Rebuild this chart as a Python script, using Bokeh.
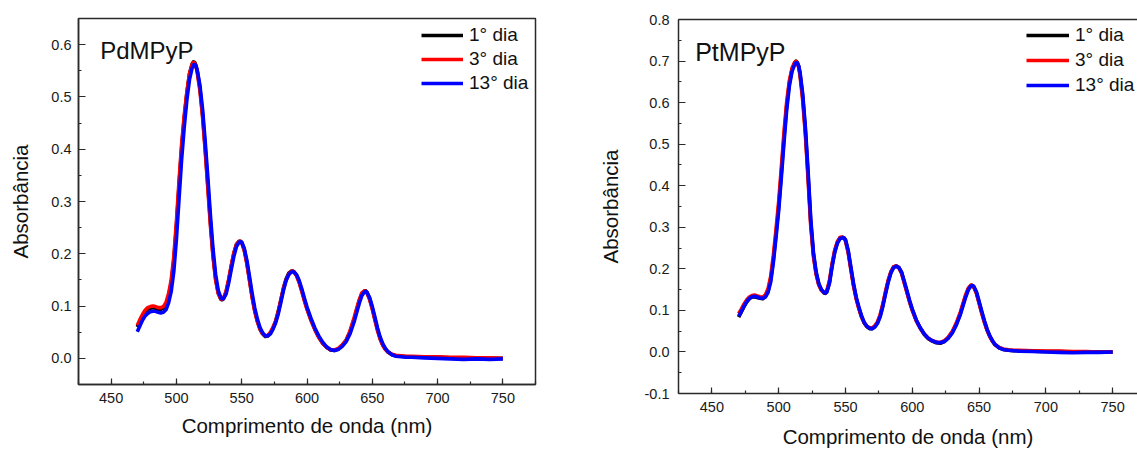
from bokeh.plotting import figure
from bokeh.models import (Range1d, SingleIntervalTicker, PrintfTickFormatter, Legend,
                          LegendItem, Label, LinearAxis, FixedTicker)
from bokeh.layouts import row
from bokeh.embed import file_html
from bokeh.resources import INLINE

wavelength = [470, 472, 474, 476, 478, 480, 482, 484, 486, 488,
              490, 492, 494, 496, 498, 500, 502, 504, 506, 508,
              510, 512, 513, 514, 515, 516, 518, 520, 522, 524,
              526, 528, 530, 532, 534, 535, 536, 538, 540, 542,
              544, 546, 548, 549, 550, 552, 554, 556, 558, 560,
              562, 564, 566, 568, 570, 572, 574, 576, 578, 580,
              582, 584, 586, 588, 589, 590, 592, 594, 596, 598,
              600, 603, 606, 609, 612, 615, 618, 621, 624, 627,
              630, 633, 636, 638, 640, 642, 644, 645, 646, 648,
              650, 652, 654, 656, 658, 660, 662, 665, 668, 672,
              676, 680, 690, 700, 710, 720, 730, 740, 750]

series_labels = ["1° dia", "3° dia", "13° dia"]

pd_dia1 = [0.060, 0.071, 0.081, 0.089, 0.094, 0.096, 0.097, 0.096, 0.094, 0.094,
           0.096, 0.103, 0.119, 0.144, 0.187, 0.253, 0.331, 0.403, 0.460, 0.507,
           0.544, 0.563, 0.567, 0.566, 0.560, 0.549, 0.516, 0.467, 0.404, 0.333,
           0.261, 0.199, 0.153, 0.125, 0.113, 0.112, 0.114, 0.126, 0.149, 0.176,
           0.201, 0.218, 0.224, 0.224, 0.222, 0.207, 0.182, 0.150, 0.118, 0.091,
           0.071, 0.056, 0.047, 0.042, 0.043, 0.048, 0.058, 0.071, 0.090, 0.112,
           0.135, 0.152, 0.163, 0.167, 0.167, 0.166, 0.159, 0.146, 0.130, 0.112,
           0.095, 0.074, 0.056, 0.041, 0.029, 0.021, 0.016, 0.015, 0.018, 0.025,
           0.035, 0.051, 0.074, 0.092, 0.110, 0.124, 0.129, 0.129, 0.126, 0.114,
           0.096, 0.075, 0.055, 0.038, 0.026, 0.018, 0.012, 0.007, 0.005, 0.004,
           0.003, 0.003, 0.002, 0.002, 0.001, 0.001, 0.000, 0.000, 0.000]

pd_dia3 = [0.063, 0.074, 0.084, 0.092, 0.097, 0.099, 0.100, 0.099, 0.097, 0.097,
           0.099, 0.107, 0.124, 0.150, 0.195, 0.262, 0.340, 0.410, 0.465, 0.510,
           0.545, 0.562, 0.566, 0.564, 0.558, 0.546, 0.512, 0.462, 0.398, 0.327,
           0.255, 0.195, 0.150, 0.124, 0.114, 0.113, 0.115, 0.128, 0.151, 0.178,
           0.202, 0.218, 0.224, 0.224, 0.221, 0.206, 0.180, 0.148, 0.116, 0.090,
           0.070, 0.056, 0.047, 0.043, 0.044, 0.050, 0.060, 0.071, 0.089, 0.112,
           0.134, 0.150, 0.161, 0.167, 0.167, 0.165, 0.158, 0.145, 0.128, 0.110,
           0.094, 0.073, 0.055, 0.040, 0.029, 0.021, 0.017, 0.016, 0.019, 0.026,
           0.034, 0.053, 0.077, 0.095, 0.112, 0.125, 0.129, 0.128, 0.125, 0.112,
           0.094, 0.073, 0.053, 0.037, 0.025, 0.017, 0.012, 0.008, 0.006, 0.005,
           0.004, 0.004, 0.003, 0.003, 0.002, 0.002, 0.001, 0.001, 0.000]

pd_dia13 = [0.051, 0.062, 0.073, 0.081, 0.086, 0.089, 0.090, 0.090, 0.088, 0.087,
            0.088, 0.093, 0.106, 0.128, 0.166, 0.228, 0.305, 0.381, 0.443, 0.494,
            0.533, 0.555, 0.561, 0.562, 0.559, 0.550, 0.522, 0.477, 0.416, 0.348,
            0.275, 0.210, 0.161, 0.130, 0.116, 0.114, 0.114, 0.123, 0.144, 0.170,
            0.195, 0.214, 0.222, 0.223, 0.222, 0.210, 0.187, 0.156, 0.124, 0.096,
            0.075, 0.059, 0.049, 0.043, 0.043, 0.047, 0.056, 0.068, 0.085, 0.107,
            0.130, 0.149, 0.160, 0.165, 0.166, 0.165, 0.160, 0.149, 0.133, 0.115,
            0.098, 0.077, 0.058, 0.043, 0.031, 0.022, 0.017, 0.015, 0.017, 0.023,
            0.032, 0.047, 0.069, 0.087, 0.105, 0.120, 0.127, 0.128, 0.126, 0.116,
            0.099, 0.079, 0.058, 0.041, 0.028, 0.019, 0.013, 0.007, 0.004, 0.003,
            0.002, 0.002, 0.001, 0.000, -0.001, -0.002, -0.001, -0.002, -0.001]

pt_dia1 = [0.084, 0.096, 0.109, 0.120, 0.128, 0.132, 0.133, 0.131, 0.129, 0.128,
           0.133, 0.146, 0.174, 0.222, 0.284, 0.350, 0.432, 0.517, 0.593, 0.647,
           0.680, 0.696, 0.700, 0.696, 0.687, 0.669, 0.613, 0.531, 0.425, 0.311,
           0.235, 0.190, 0.163, 0.149, 0.142, 0.141, 0.145, 0.168, 0.209, 0.243,
           0.264, 0.275, 0.276, 0.274, 0.269, 0.242, 0.202, 0.162, 0.130, 0.106,
           0.085, 0.070, 0.061, 0.056, 0.056, 0.061, 0.071, 0.087, 0.113, 0.143,
           0.171, 0.192, 0.204, 0.207, 0.205, 0.203, 0.191, 0.168, 0.145, 0.122,
           0.101, 0.076, 0.057, 0.042, 0.032, 0.026, 0.022, 0.021, 0.025, 0.034,
           0.048, 0.067, 0.093, 0.114, 0.135, 0.152, 0.160, 0.160, 0.157, 0.143,
           0.119, 0.095, 0.073, 0.053, 0.038, 0.026, 0.017, 0.010, 0.006, 0.004,
           0.003, 0.003, 0.002, 0.001, 0.001, 0.000, 0.000, 0.000, 0.000]

pt_dia3 = [0.092, 0.103, 0.115, 0.125, 0.132, 0.136, 0.137, 0.135, 0.133, 0.132,
           0.137, 0.152, 0.182, 0.232, 0.295, 0.362, 0.445, 0.530, 0.602, 0.653,
           0.683, 0.697, 0.699, 0.694, 0.684, 0.664, 0.605, 0.522, 0.415, 0.303,
           0.230, 0.187, 0.161, 0.148, 0.143, 0.143, 0.147, 0.172, 0.213, 0.246,
           0.266, 0.276, 0.276, 0.273, 0.267, 0.239, 0.198, 0.159, 0.128, 0.104,
           0.084, 0.070, 0.062, 0.058, 0.058, 0.063, 0.073, 0.090, 0.116, 0.146,
           0.173, 0.193, 0.205, 0.207, 0.205, 0.202, 0.189, 0.166, 0.143, 0.120,
           0.100, 0.075, 0.057, 0.043, 0.033, 0.027, 0.024, 0.023, 0.027, 0.036,
           0.050, 0.070, 0.096, 0.117, 0.138, 0.154, 0.161, 0.160, 0.156, 0.141,
           0.117, 0.093, 0.071, 0.052, 0.037, 0.026, 0.018, 0.011, 0.007, 0.005,
           0.004, 0.004, 0.003, 0.002, 0.002, 0.001, 0.001, 0.000, 0.000]

pt_dia13 = [0.086, 0.097, 0.110, 0.121, 0.129, 0.133, 0.134, 0.132, 0.130, 0.129,
            0.132, 0.143, 0.168, 0.215, 0.275, 0.340, 0.420, 0.505, 0.583, 0.640,
            0.675, 0.692, 0.696, 0.695, 0.688, 0.672, 0.620, 0.540, 0.435, 0.320,
            0.240, 0.193, 0.165, 0.150, 0.143, 0.142, 0.144, 0.165, 0.205, 0.240,
            0.262, 0.273, 0.275, 0.274, 0.270, 0.245, 0.205, 0.165, 0.132, 0.108,
            0.087, 0.071, 0.062, 0.057, 0.056, 0.060, 0.069, 0.085, 0.110, 0.140,
            0.168, 0.190, 0.203, 0.206, 0.205, 0.203, 0.192, 0.170, 0.147, 0.124,
            0.103, 0.077, 0.058, 0.043, 0.033, 0.027, 0.023, 0.022, 0.025, 0.033,
            0.046, 0.065, 0.090, 0.111, 0.132, 0.150, 0.159, 0.160, 0.158, 0.145,
            0.122, 0.098, 0.075, 0.055, 0.039, 0.027, 0.018, 0.010, 0.006, 0.004,
            0.003, 0.002, 0.001, 0.000, -0.001, -0.002, -0.001, -0.001, 0.000]

FONT = "Liberation Sans"
AX_COLOR = "#2a2a2a"
COLORS = ["#000000", "#ff0000", "#0000ff"]


def style_axis(ax, interval, fmt, tick_in):
    ax.ticker = SingleIntervalTicker(interval=interval, num_minor_ticks=2)
    ax.formatter = PrintfTickFormatter(format=fmt)
    ax.axis_line_color = AX_COLOR
    ax.axis_line_width = 1.5
    ax.major_tick_line_color = AX_COLOR
    ax.minor_tick_line_color = AX_COLOR
    ax.major_tick_line_width = 1.2
    ax.minor_tick_line_width = 1.2
    ax.major_tick_in = tick_in
    ax.major_tick_out = 0
    ax.minor_tick_in = 3
    ax.minor_tick_out = 0
    ax.major_label_text_font = FONT
    ax.major_label_text_font_size = "14.5px"
    ax.major_label_text_color = "#1a1a1a"
    ax.axis_label_text_font = FONT
    ax.axis_label_text_font_size = "20.5px"
    ax.axis_label_text_font_style = "normal"
    ax.axis_label_text_color = "#111111"


def make_panel(width, borders, x_range, y_range, ys, title, title_pos, title_size,
               leg_loc, leg_glyph_w, leg_spacing, full_frame, standoffs):
    left, right, top, bottom = borders
    p = figure(width=width, height=450, output_backend="svg", toolbar_location=None,
               x_range=Range1d(*x_range), y_range=Range1d(*y_range),
               min_border_left=left, min_border_right=right,
               min_border_top=top, min_border_bottom=bottom)
    p.frame_align = False
    p.xgrid.visible = False
    p.ygrid.visible = False
    p.background_fill_color = "white"
    p.border_fill_color = "white"
    if full_frame:
        p.outline_line_color = AX_COLOR
        p.outline_line_width = 1.5
    else:
        p.outline_line_color = None
        top_ax = LinearAxis(ticker=FixedTicker(ticks=[]), axis_line_color=AX_COLOR,
                            axis_line_width=1.5, major_label_text_font_size="0px",
                            major_tick_line_color=None, minor_tick_line_color=None,
                            major_tick_out=0, major_tick_in=0, minor_tick_out=0,
                            minor_tick_in=0, major_label_standoff=0)
        p.add_layout(top_ax, "above")

    xax = p.below[0]
    yax = p.left[0]
    style_axis(xax, 50, "%d", 6)
    style_axis(yax, 0.1, "%.1f", 7)
    xax.axis_label = "Comprimento de onda (nm)"
    yax.axis_label = "Absorbância"
    xs_major, xs_label, ys_major, ys_label = standoffs
    xax.major_label_standoff = xs_major
    xax.axis_label_standoff = xs_label
    yax.major_label_standoff = ys_major
    yax.axis_label_standoff = ys_label

    renderers = []
    for yv, c in zip(ys, COLORS):
        r = p.line(wavelength, yv, line_color=c, line_width=3.6, line_join="round")
        renderers.append(r)

    items = [LegendItem(label=lab, renderers=[r]) for lab, r in zip(series_labels, renderers)]
    leg = Legend(items=items, location=leg_loc, padding=0, margin=0, spacing=leg_spacing,
                 glyph_width=leg_glyph_w, glyph_height=20, label_height=20,
                 label_standoff=6, label_text_font=FONT, label_text_font_size="19px",
                 label_text_color="#111111", border_line_color=None,
                 background_fill_alpha=0)
    p.add_layout(leg, "center")

    lab = Label(x=title_pos[0], y=title_pos[1], text=title, text_font=FONT,
                text_font_size=title_size, text_color="#111111",
                text_baseline="alphabetic", text_align="left")
    p.add_layout(lab)
    return p


p1 = make_panel(590, (78, 55, 18, 66), (425, 775), (-0.05, 0.65),
                [pd_dia1, pd_dia3, pd_dia13], "PdMPyP", (441.6, 0.5895), "24px",
                (343, 290), 42, 2, True, (8, 8, 7, 16))
p2 = make_panel(547, (88, 0, 19, 56), (425, 768.6), (-0.1, 0.8),
                [pt_dia1, pt_dia3, pt_dia13], "PtMPyP", (437.5, 0.7216), "25px",
                (348, 297), 43, 3, False, (8, 10, 9, 20))

layout = row(p1, p2)
open("out.html", "w").write(file_html(layout, INLINE))
